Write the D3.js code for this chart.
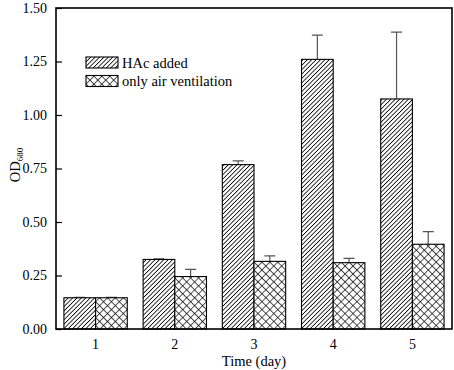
<!DOCTYPE html>
<html>
<head>
<meta charset="utf-8">
<script src="https://cdn.jsdelivr.net/npm/d3@7"></script>
<style>
  body { margin: 0; background: #fff; }
  svg text { font-family: 'Liberation Serif', 'Times New Roman', serif; fill: #000; }
</style>
</head>
<body>
<svg id="viz"></svg>
<script>
const days = ['1', '2', '3', '4', '5'];
const seriesNames = ['HAc added', 'only air ventilation'];
const hacValues = [0.146, 0.325, 0.768, 1.260, 1.075];
const hacErrors = [0.002, 0.003, 0.018, 0.113, 0.312];
const airValues = [0.146, 0.245, 0.316, 0.310, 0.396];
const airErrors = [0.002, 0.034, 0.026, 0.020, 0.059];
const yTicks = [0, 0.25, 0.5, 0.75, 1.0, 1.25, 1.5];

const width = 454, height = 370;
const margin = { top: 8, right: 2, bottom: 41, left: 56 };
const w = width - margin.left - margin.right;
const h = height - margin.top - margin.bottom;
const serif = "'Liberation Serif', 'Times New Roman', serif";

const svg = d3.select('#viz').attr('width', width).attr('height', height);

// PATTERNS
const defs = svg.append('defs');
const hatch = defs.append('pattern')
  .attr('id', 'hatch')
  .attr('patternUnits', 'userSpaceOnUse')
  .attr('width', 3.1).attr('height', 3.1)
  .attr('patternTransform', 'rotate(45)');
hatch.append('rect').attr('width', 3.1).attr('height', 3.1).attr('fill', '#fff');
hatch.append('line').attr('x1', 0).attr('y1', 0).attr('x2', 0).attr('y2', 3.1)
  .attr('stroke', '#000').attr('stroke-width', 1.6);

const cross = defs.append('pattern')
  .attr('id', 'cross')
  .attr('patternUnits', 'userSpaceOnUse')
  .attr('width', 5.6).attr('height', 5.6)
  .attr('patternTransform', 'rotate(45)');
cross.append('rect').attr('width', 5.6).attr('height', 5.6).attr('fill', '#fff');
cross.append('path').attr('d', 'M0,0V5.6M0,0H5.6')
  .attr('stroke', '#000').attr('stroke-width', 1.3);

const g = svg.append('g')
  .attr('transform', 'translate(' + margin.left + ',' + margin.top + ')');

// SCALES
const x = d3.scaleBand().domain(days).range([0, w]).paddingInner(0.2).paddingOuter(0.1);
const x1 = d3.scaleBand().domain(seriesNames).range([0, x.bandwidth()]);
const y = d3.scaleLinear().domain([0, 1.5]).range([h, 0]);

const data = days.map((d, i) => ({
  day: d,
  bars: [
    { key: seriesNames[0], v: hacValues[i], e: hacErrors[i], fill: 'url(#hatch)' },
    { key: seriesNames[1], v: airValues[i], e: airErrors[i], fill: 'url(#cross)' }
  ]
}));

// ERROR BARS (behind bars)
const groups = g.selectAll('.grp').data(data).enter().append('g')
  .attr('transform', (d) => 'translate(' + x(d.day) + ',0)');

groups.selectAll('.err').data((d) => d.bars).enter().append('path')
  .attr('d', (b) => {
    const cx = x1(b.key) + x1.bandwidth() / 2;
    return 'M' + cx + ',' + y(b.v) + 'V' + y(b.v + b.e) + 'M' + (cx - 5.5) + ',' + y(b.v + b.e) + 'H' + (cx + 5.5);
  })
  .attr('fill', 'none').attr('stroke', '#555').attr('stroke-width', 1.2);

groups.selectAll('.bar').data((d) => d.bars).enter().append('rect')
  .attr('x', (b) => x1(b.key))
  .attr('y', (b) => y(b.v))
  .attr('width', x1.bandwidth())
  .attr('height', (b) => h - y(b.v))
  .attr('fill', (b) => b.fill)
  .attr('stroke', '#000').attr('stroke-width', 1.1);

// AXES
const yAxis = g.append('g').attr('font-family', serif)
  .call(d3.axisLeft(y).tickValues(yTicks).tickSizeInner(-6).tickSizeOuter(0).tickPadding(9).tickFormat(d3.format('.2f')));
yAxis.attr('font-family', serif);
yAxis.select('.domain').remove();
yAxis.selectAll('line').attr('stroke', '#000').attr('stroke-width', 1.2);
yAxis.selectAll('text').attr('font-family', serif).style('font-size', '14px');

const xAxis = g.append('g').attr('transform', 'translate(0,' + h + ')')
  .call(d3.axisBottom(x).tickSize(0).tickPadding(10));
xAxis.attr('font-family', serif);
xAxis.select('.domain').remove();
xAxis.selectAll('text').attr('font-family', serif).style('font-size', '14px');

// FRAME
g.append('rect').attr('width', w).attr('height', h)
  .attr('fill', 'none').attr('stroke', '#000').attr('stroke-width', 1.6);

// LABELS
g.append('text')
  .attr('x', w / 2).attr('y', h + 37)
  .attr('text-anchor', 'middle')
  .attr('font-family', serif)
  .style('font-size', '14.5px')
  .text('Time (day)');

const yl = svg.append('text')
  .attr('transform', 'translate(20,' + (margin.top + 157) + ') rotate(-90)')
  .attr('text-anchor', 'middle')
  .attr('font-family', serif)
  .style('font-size', '14.5px');
yl.append('tspan').text('OD');
yl.append('tspan').attr('dy', 3).style('font-size', '9px').text('680');

// LEGEND
const legend = g.append('g').attr('transform', 'translate(30,49)');
const legendFills = ['url(#hatch)', 'url(#cross)'];
seriesNames.forEach((s, i) => {
  const row = legend.append('g').attr('transform', 'translate(0,' + i * 18.5 + ')');
  row.append('rect').attr('width', 32).attr('height', 11)
    .attr('fill', legendFills[i]).attr('stroke', '#000').attr('stroke-width', 1.1);
  row.append('text').attr('x', 36).attr('y', 10.5)
    .attr('font-family', serif).style('font-size', '14.5px').text(s);
});
</script>
</body>
</html>
